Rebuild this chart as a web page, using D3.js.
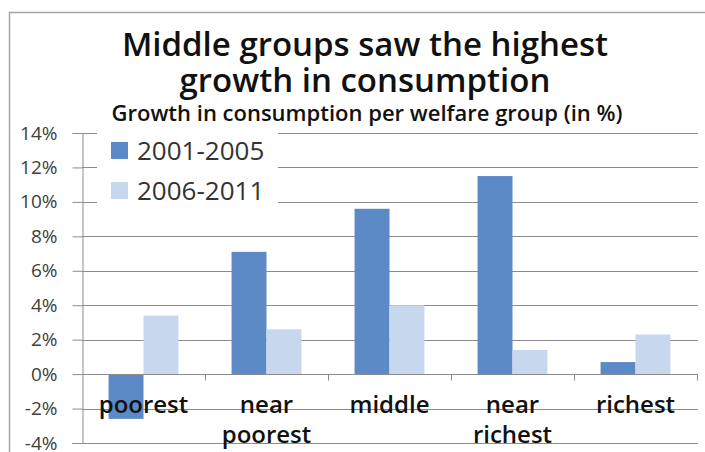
<!DOCTYPE html>
<html>
<head>
<meta charset="utf-8">
<script src="https://cdn.jsdelivr.net/npm/d3@7"></script>
<style>
  body { margin: 0; background: #fff; }
  svg { display: block; font-family: "Open Sans", "DejaVu Sans", sans-serif; }
</style>
</head>
<body>
<div id="chart"></div>
<script>
// data
const groups = ["poorest", "near poorest", "middle", "near richest", "richest"];
const seriesNames = ["2001-2005", "2006-2011"];
const growth2001 = [-2.6, 7.1, 9.6, 11.5, 0.7];
const growth2006 = [3.4, 2.6, 4.0, 1.4, 2.3];
const yTicks = [-4, -2, 0, 2, 4, 6, 8, 10, 12, 14];

const colors = ["#5b8ac6", "#c6d7ee"];
const W = 705, H = 452;

const svg = d3.select("#chart").append("svg")
  .attr("width", W)
  .attr("height", H);

// outer chart frame
svg.append("rect")
  .attr("x", 9.5).attr("y", 12.5)
  .attr("width", W + 10).attr("height", H + 10)
  .attr("fill", "#fff")
  .attr("stroke", "#a6a6a6")
  .attr("stroke-width", 1.5);

const x0 = d3.scaleBand()
  .domain(groups)
  .range([82, 697]);

const x1 = d3.scaleBand()
  .domain(seriesNames)
  .range([0, x0.bandwidth()])
  .paddingOuter(0.76);

const y = d3.scaleLinear()
  .domain([-4, 14])
  .range([443, 133]);

// gridlines
svg.append("g")
  .selectAll("line")
  .data(yTicks)
  .join("line")
  .attr("x1", 82).attr("x2", 698)
  .attr("y1", d => Math.round(y(d)) + 0.5)
  .attr("y2", d => Math.round(y(d)) + 0.5)
  .attr("stroke", "#8c8c8c");

// y axis
const yAxis = svg.append("g")
  .attr("transform", "translate(82.5,0)")
  .call(d3.axisLeft(y).tickValues(yTicks).tickFormat(d => d + "%").tickSize(10).tickPadding(15));
yAxis.select(".domain").attr("stroke", "#8c8c8c");
yAxis.selectAll(".tick line").attr("stroke", "#8c8c8c");
yAxis.selectAll(".tick text")
  .attr("fill", "#404040")
  .style("font-size", "19px")
  .style("font-family", "'Open Sans', sans-serif");

// bars
const rows = groups.map((g, i) => ({ group: g, values: [growth2001[i], growth2006[i]] }));
svg.append("g")
  .selectAll("g")
  .data(rows)
  .join("g")
  .attr("transform", d => `translate(${x0(d.group)},0)`)
  .selectAll("rect")
  .data(d => d.values.map((v, j) => ({ name: seriesNames[j], value: v, j })))
  .join("rect")
  .attr("x", d => x1(d.name))
  .attr("width", x1.bandwidth())
  .attr("y", d => y(Math.max(0, d.value)))
  .attr("height", d => Math.abs(y(d.value) - y(0)))
  .attr("fill", d => colors[d.j]);

// x axis at zero, ticks between categories
const xAxis = svg.append("g")
  .attr("transform", `translate(0,${Math.round(y(0)) + 0.5})`);
xAxis.append("line")
  .attr("x1", 82).attr("x2", 698)
  .attr("stroke", "#8c8c8c");
xAxis.selectAll("line.tk")
  .data(groups)
  .join("line")
  .attr("class", "tk")
  .attr("x1", d => x0(d) + x0.bandwidth() + 0.5)
  .attr("x2", d => x0(d) + x0.bandwidth() + 0.5)
  .attr("y1", 0).attr("y2", 6)
  .attr("stroke", "#8c8c8c");

// category labels (wrap to two lines)
const labels = svg.append("g")
  .selectAll("text")
  .data(groups)
  .join("text")
  .attr("x", d => x0(d) + x0.bandwidth() / 2)
  .attr("y", 413)
  .attr("text-anchor", "middle")
  .attr("fill", "#111")
  .style("font-size", "24px")
  .style("font-weight", "600");
labels.each(function(d) {
  const words = d.split(" ");
  d3.select(this).selectAll("tspan")
    .data(words)
    .join("tspan")
    .attr("x", x0(d) + x0.bandwidth() / 2)
    .attr("dy", (w, i) => i === 0 ? 0 : 30)
    .text(w => w);
});

// legend
const legend = svg.append("g");
legend.append("rect")
  .attr("x", 97).attr("y", 128)
  .attr("width", 181).attr("height", 76)
  .attr("fill", "#fff");
seriesNames.forEach((name, i) => {
  legend.append("rect")
    .attr("x", 111).attr("y", 142 + i * 40)
    .attr("width", 17).attr("height", 17)
    .attr("fill", colors[i]);
  legend.append("text")
    .attr("x", 137).attr("y", 160 + i * 40)
    .attr("fill", "#333")
    .style("font-size", "26px")
    .text(name);
});

// titles
svg.append("text")
  .attr("x", 365).attr("y", 56)
  .attr("text-anchor", "middle")
  .attr("fill", "#111")
  .style("font-size", "33px")
  .style("font-weight", "600")
  .text("Middle groups saw the highest");
svg.append("text")
  .attr("x", 365).attr("y", 92)
  .attr("text-anchor", "middle")
  .attr("fill", "#111")
  .style("font-size", "33px")
  .style("font-weight", "600")
  .text("growth in consumption");
svg.append("text")
  .attr("x", 367).attr("y", 121)
  .attr("text-anchor", "middle")
  .attr("fill", "#111")
  .style("font-size", "22px")
  .style("font-weight", "600")
  .text("Growth in consumption per welfare group (in %)");
</script>
</body>
</html>
